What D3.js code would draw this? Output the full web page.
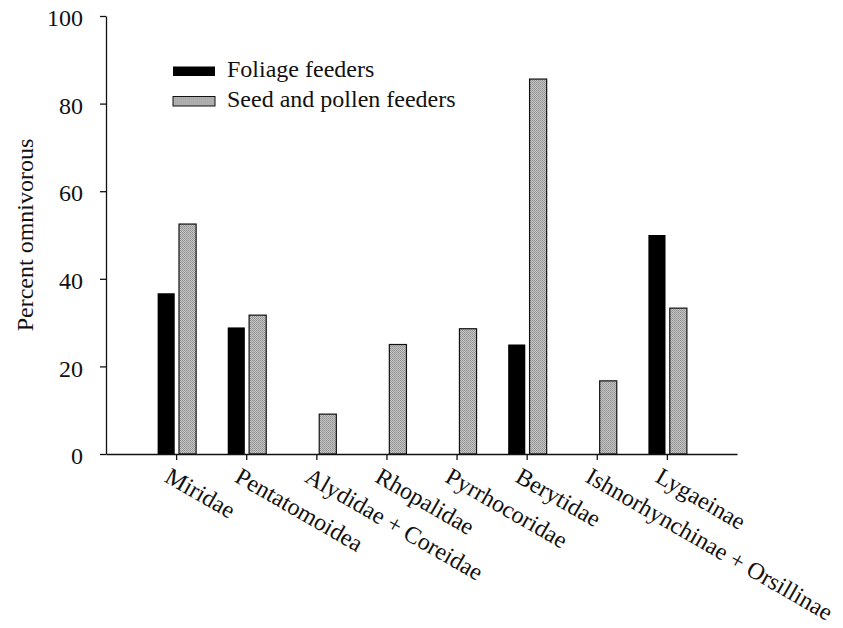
<!DOCTYPE html>
<html>
<head>
<meta charset="utf-8">
<script src="https://cdn.jsdelivr.net/npm/d3@7/dist/d3.min.js"></script>
<style>
    body { margin: 0; background: #fff; }
</style>
</head>
<body>
<div id="chart"></div>
<script>
// data
const categories = ["Miridae", "Pentatomoidea", "Alydidae + Coreidae", "Rhopalidae",
    "Pyrrhocoridae", "Berytidae", "Ishnorhynchinae + Orsillinae", "Lygaeinae"];
const seriesNames = ["Foliage feeders", "Seed and pollen feeders"];
const foliageValues = [36.7, 28.9, null, null, null, 25.0, null, 50.0];
const seedValues = [52.5, 31.7, 9.1, 25.0, 28.6, 85.6, 16.7, 33.3];
const yTicks = [0, 20, 40, 60, 80, 100];

const serif = "'Liberation Serif', 'Times New Roman', Times, serif";

// set the dimensions and margins of the graph
const margin = {top: 16, right: 106, bottom: 174, left: 106};
const width = 843 - margin.left - margin.right;
const height = 628 - margin.top - margin.bottom;

const svg = d3.select("#chart").append("svg")
    .attr("width", 843)
    .attr("height", 628)
    .style("font-family", serif)
    .append("g")
    .attr("transform", "translate(" + margin.left + "," + margin.top + ")");

// stipple pattern for the grey bars
const defs = svg.append("defs");
const pat = defs.append("pattern")
    .attr("id", "stipple")
    .attr("patternUnits", "userSpaceOnUse")
    .attr("width", 2).attr("height", 2);
pat.append("rect").attr("width", 2).attr("height", 2).attr("fill", "#c6c6c6");
pat.append("rect").attr("width", 1).attr("height", 1).attr("fill", "#8e8e8e");
pat.append("rect").attr("x", 1).attr("y", 1).attr("width", 1).attr("height", 1).attr("fill", "#9c9c9c");

// set the ranges
const x = d3.scalePoint().domain(categories).range([0, width]).padding(1);
const xInner = d3.scaleBand().domain(seriesNames).range([-18.5, 20]).paddingInner(0.2);
const y = d3.scaleLinear().domain([0, 100]).range([height, 0]);

const fills = {"Foliage feeders": "#000", "Seed and pollen feeders": "url(#stipple)"};

const rows = [];
categories.forEach(function(c, i) {
    rows.push({cat: c, series: seriesNames[0], value: foliageValues[i]});
    rows.push({cat: c, series: seriesNames[1], value: seedValues[i]});
});

// bars
svg.selectAll(".bar")
    .data(rows.filter(function(d) { return d.value != null; }))
    .enter().append("rect")
    .attr("class", "bar")
    .attr("x", function(d) { return x(d.cat) + xInner(d.series); })
    .attr("width", xInner.bandwidth())
    .attr("y", function(d) { return y(d.value); })
    .attr("height", function(d) { return height - y(d.value); })
    .attr("fill", function(d) { return fills[d.series]; })
    .attr("stroke", function(d) { return d.series === seriesNames[1] ? "#111" : "none"; })
    .attr("stroke-width", 1.2);

// y axis
const yAxis = svg.append("g")
    .call(d3.axisLeft(y).tickValues(yTicks).tickSize(6).tickSizeOuter(0).tickPadding(17));
yAxis.attr("font-family", serif);
yAxis.selectAll("text")
    .style("font-family", serif)
    .style("font-size", "24px")
    .attr("fill", "#111")
    .attr("dy", "0.4em");

// x axis
const xAxis = svg.append("g")
    .attr("transform", "translate(0," + height + ")")
    .call(d3.axisBottom(x).tickSize(6).tickSizeOuter(0));
xAxis.attr("font-family", serif);
xAxis.selectAll("text")
    .style("font-family", serif)
    .style("font-size", "24px")
    .style("text-anchor", "start")
    .attr("fill", "#111")
    .attr("transform", "rotate(30)")
    .attr("x", 2)
    .attr("y", 30)
    .attr("dy", null);

svg.selectAll(".domain, .tick line").attr("stroke", "#111").attr("stroke-width", 1.3);

// y axis title
svg.append("text")
    .attr("transform", "translate(" + (33 - margin.left) + "," + (height / 2) + ") rotate(-90)")
    .style("font-family", serif)
    .style("text-anchor", "middle")
    .style("font-size", "24px")
    .attr("fill", "#111")
    .text("Percent omnivorous");

// legend
const legend = svg.selectAll(".legend")
    .data(seriesNames)
    .enter().append("g")
    .attr("class", "legend")
    .attr("transform", function(d, i) { return "translate(" + (173 - margin.left) + "," + (66.5 - margin.top + i * 30) + ")"; });
legend.append("rect")
    .attr("width", 42)
    .attr("height", 9.5)
    .attr("fill", function(d) { return fills[d]; })
    .attr("stroke", function(d, i) { return i === 1 ? "#111" : "none"; })
    .attr("stroke-width", 1);
legend.append("text")
    .attr("x", 54)
    .attr("y", 10)
    .style("font-family", serif)
    .style("font-size", "24px")
    .attr("fill", "#111")
    .text(function(d) { return d; });
</script>
</body>
</html>
